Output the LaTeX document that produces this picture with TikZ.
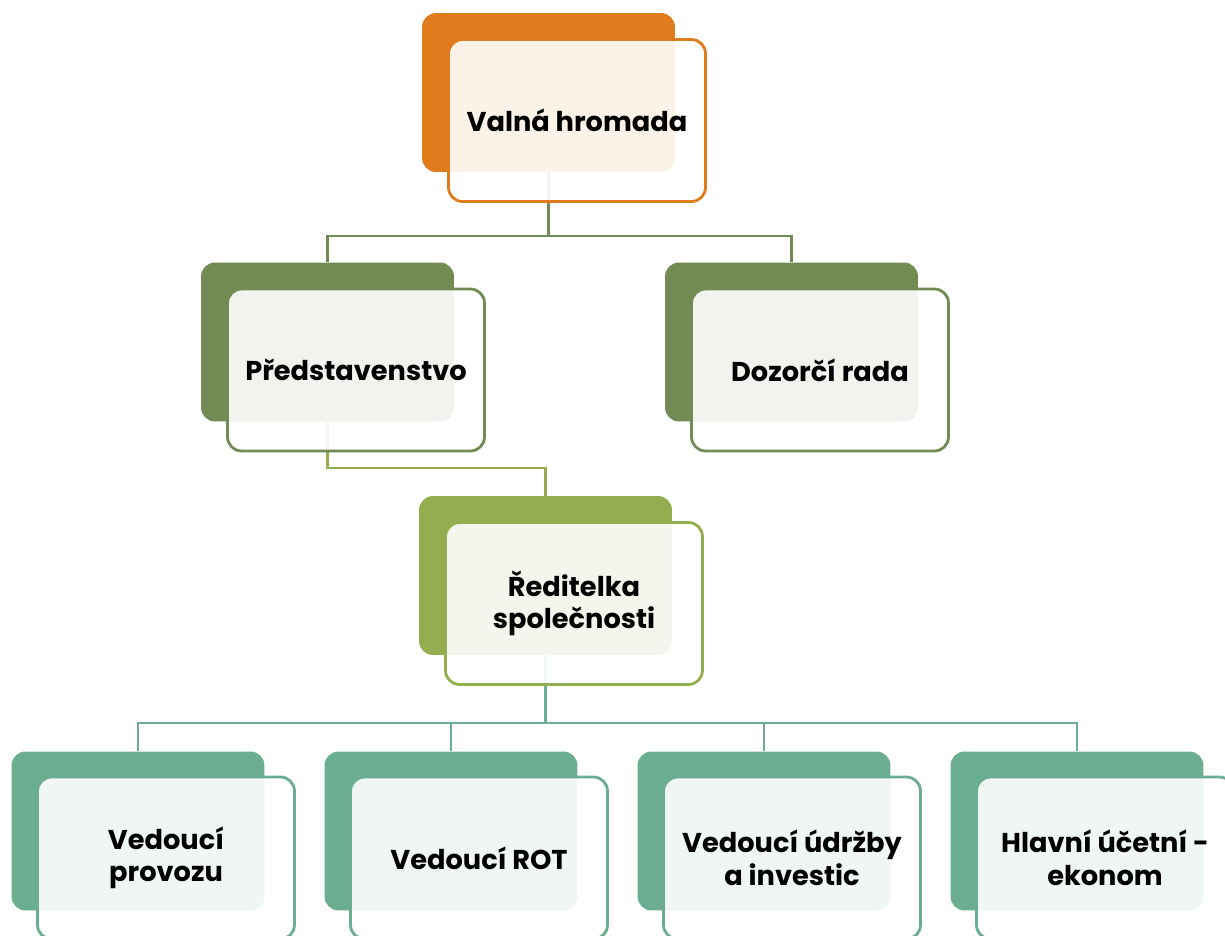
\documentclass[tikz,border=0pt]{standalone}
\usepackage{fontspec}
\setmainfont{Poppins}
\usetikzlibrary{calc}
\definecolor{cOrange}{HTML}{E07C1E}
\definecolor{cOlive}{HTML}{728A53}
\definecolor{cLime}{HTML}{94AD4E}
\definecolor{cTeal}{HTML}{6AAD91}
\tikzset{
  backbox/.style={rectangle, rounded corners=0.28cm, minimum width=5.06cm, minimum height=3.18cm, inner sep=0pt, fill=#1},
  frontbox/.style={rectangle, rounded corners=0.28cm, minimum width=5.14cm, minimum height=3.24cm, inner sep=0pt,
    draw=#1, line width=1.6pt, fill=white, fill opacity=0.9, draw opacity=1, text opacity=1,
    font=\fontsize{15.5}{18.5}\selectfont\bfseries, align=center, text=black},
  conn/.style={draw=#1, line width=1.5pt},
}
\begin{document}
\begin{tikzpicture}[x=0.02cm, y=-0.02cm]
\useasboundingbox (0,0) rectangle (1225,936);
\clip (0,0) rectangle (1225,936);
% back boxes
\node[backbox=cOrange] (b1) at (548.5,92.5) {};
\node[backbox=cOlive] (b2) at (327.5,342) {};
\node[backbox=cOlive] (b3) at (791.5,342) {};
\node[backbox=cLime] (b4) at (545.5,575.5) {};
\node[backbox=cTeal] (b5) at (138,831) {};
\node[backbox=cTeal] (b6) at (451,831) {};
\node[backbox=cTeal] (b7) at (764,831) {};
\node[backbox=cTeal] (b8) at (1077,831) {};
% bus coordinates
\coordinate (bus1) at (0,236);
\coordinate (bus2) at (0,468);
\coordinate (bus3) at (0,723);
% connectors
\draw[conn=cOlive] (b1.south) -- (b1.south |- bus1) -| (b2.north);
\draw[conn=cOlive] (b1.south |- bus1) -| (b3.north);
\draw[conn=cLime] (b2.south) -- (b2.south |- bus2) -| (b4.north);
\draw[conn=cTeal] (b4.south) -- (b4.south |- bus3) -| (b5.north);
\draw[conn=cTeal] (b4.south |- bus3) -| (b6.north);
\draw[conn=cTeal] (b4.south |- bus3) -| (b7.north);
\draw[conn=cTeal] (b4.south |- bus3) -| (b8.north);
% front boxes
\node[frontbox=cOrange] (f1) at ($(b1.center)+(28.5,28)$) {Valná hromada};
\node[frontbox=cOlive] (f2) at ($(b2.center)+(28.5,28)$) {Představenstvo};
\node[frontbox=cOlive] (f3) at ($(b3.center)+(28.5,28)$) {Dozorčí rada};
\node[frontbox=cLime] (f4) at ($(b4.center)+(28.5,28)$) {Ředitelka\\společnosti};
\node[frontbox=cTeal] (f5) at ($(b5.center)+(28,27)$) {Vedoucí\\provozu};
\node[frontbox=cTeal] (f6) at ($(b6.center)+(28,27)$) {Vedoucí ROT};
\node[frontbox=cTeal] (f7) at ($(b7.center)+(28,27)$) {Vedoucí údržby\\a investic};
\node[frontbox=cTeal] (f8) at ($(b8.center)+(28,27)$) {Hlavní účetní -\\ekonom};
\end{tikzpicture}
\end{document}
